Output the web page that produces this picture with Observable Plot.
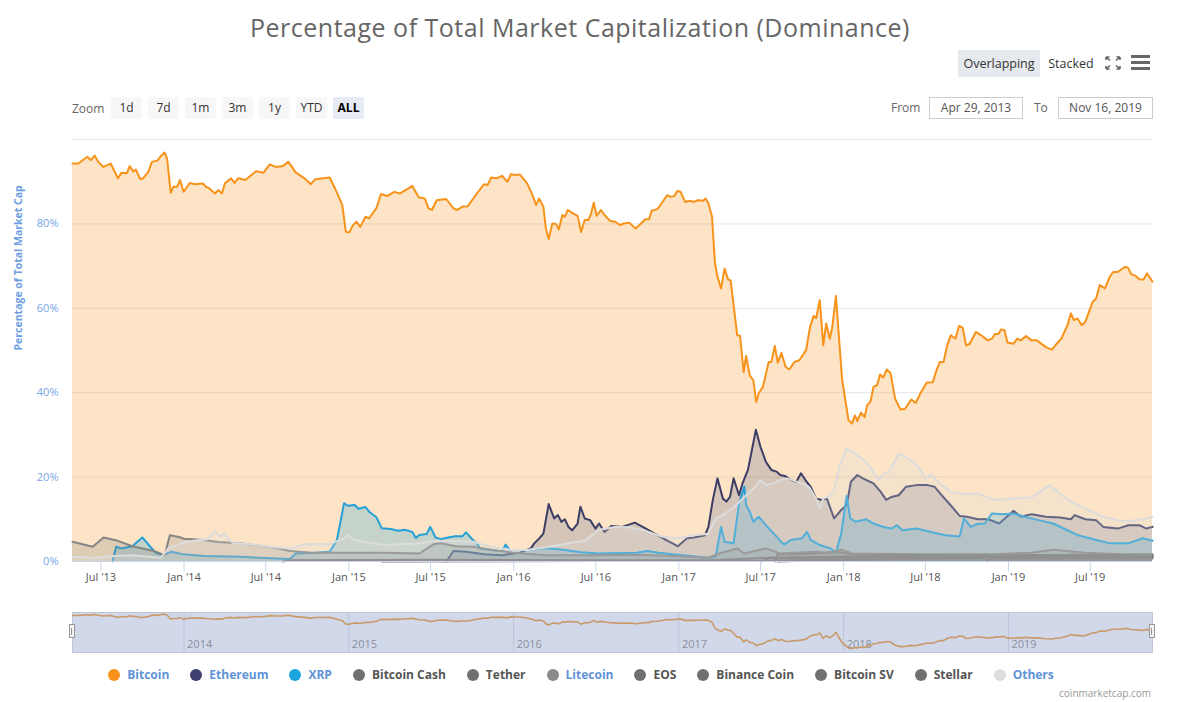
<!DOCTYPE html>
<html><head><meta charset="utf-8">
<script src="https://cdn.jsdelivr.net/npm/d3@7"></script>
<script src="https://cdn.jsdelivr.net/npm/@observablehq/plot@0.6"></script>
<style>
body{margin:0;background:#fff;font-family:"Open Sans",sans-serif;}
#wrap{position:relative;width:1192px;height:702px;overflow:hidden;}
.abs{position:absolute;}
#title{left:0;width:1160px;top:12px;line-height:30px;text-align:center;font-size:25px;letter-spacing:0.5px;color:#666;}
.tb{top:50px;height:27px;line-height:27px;font-size:12.5px;color:#333;text-align:center;}
#zoomrow{left:72px;top:97px;height:22px;display:flex;align-items:center;gap:6px;font-size:12px;}
#zoomrow .lab{color:#666;width:33px;}
#zoomrow .b{width:31px;height:22px;line-height:22px;text-align:center;background:#f7f7f7;color:#333;border-radius:2px;}
#zoomrow .b.on{background:#e6ebf5;font-weight:bold;color:#000;}
.inp{top:97px;height:20px;line-height:20px;border:1px solid #ccc;font-size:12px;color:#555;text-align:center;}
.flab{top:97px;height:22px;line-height:22px;font-size:12px;color:#666;}
#sep{left:72px;top:139px;width:1080px;height:1px;background:#e6e6e6;}
#legend{left:0;width:1162px;top:666px;display:flex;justify-content:center;gap:21px;font-size:12px;font-weight:bold;}
#legend .it{display:flex;align-items:center;}
#legend .dot{width:12px;height:12px;border-radius:6px;margin-right:7px;}
#credit{right:41px;top:686px;line-height:14px;font-size:10px;color:#999;}
.handle{top:624px;width:6px;height:14px;background:#f2f2f2;border:1px solid #999;box-sizing:border-box;}
.handle::after{content:"";position:absolute;left:1px;top:3px;width:2px;height:7px;border-left:1px solid #999;border-right:1px solid #999;box-sizing:content-box;}
</style></head>
<body><div id="wrap">
<div id="title" class="abs">Percentage of Total Market Capitalization (Dominance)</div>
<div class="abs tb" style="left:958px;width:82px;background:#e6e9ee;">Overlapping</div>
<div class="abs tb" style="left:1046px;width:50px;">Stacked</div>
<svg class="abs" style="left:1104px;top:55px" width="18" height="16" viewBox="0 0 18 16">
 <g stroke="#666" stroke-width="1.6" fill="none">
  <path d="M2 2 L6 5.5 M2 2 h3.5 M2 2 v3"/><path d="M16 2 L12 5.5 M16 2 h-3.5 M16 2 v3"/>
  <path d="M2 14 L6 10.5 M2 14 h3.5 M2 14 v-3"/><path d="M16 14 L12 10.5 M16 14 h-3.5 M16 14 v-3"/>
 </g></svg>
<svg class="abs" style="left:1131px;top:55px" width="19" height="16"><g fill="#666"><rect x="0" y="0" width="19" height="3"/><rect x="0" y="6" width="19" height="3"/><rect x="0" y="12" width="19" height="3"/></g></svg>
<div id="zoomrow" class="abs"></div>
<div class="abs flab" style="left:891px;">From</div>
<div class="abs inp" style="left:929px;width:92px;">Apr 29, 2013</div>
<div class="abs flab" style="left:1034px;">To</div>
<div class="abs inp" style="left:1058px;width:93px;">Nov 16, 2019</div>
<div id="sep" class="abs"></div>
<div id="main" class="abs" style="left:0;top:129px;"></div>
<div id="nav" class="abs" style="left:0;top:612px;"></div>
<div class="abs handle" style="left:69px;"></div>
<div class="abs handle" style="left:1149px;"></div>
<div id="legend" class="abs"></div>
<div id="credit" class="abs">coinmarketcap.com</div>
</div>
<script>
// ---- data: [decimal year, % of total market cap] ----
const bitcoin = [[2013.323,94.3],[2013.359,94.3],[2013.413,95.9],[2013.435,95.1],[2013.457,96.2],[2013.479,94.7],[2013.511,93.5],[2013.555,94.3],[2013.598,90.8],[2013.620,92.1],[2013.653,92.0],[2013.670,93.7],[2013.692,92.4],[2013.707,92.9],[2013.734,90.6],[2013.751,90.8],[2013.784,92.4],[2013.805,94.7],[2013.838,95.0],[2013.860,96.1],[2013.882,96.9],[2013.897,95.5],[2013.919,87.4],[2013.936,88.8],[2013.958,88.8],[2013.975,90.4],[2013.997,87.6],[2014.034,89.7],[2014.067,89.4],[2014.115,89.6],[2014.132,88.8],[2014.154,88.4],[2014.187,87.2],[2014.208,88.0],[2014.230,87.2],[2014.248,89.6],[2014.285,90.8],[2014.306,89.7],[2014.328,90.8],[2014.372,90.4],[2014.437,92.5],[2014.481,92.1],[2014.520,94.1],[2014.557,93.5],[2014.600,93.7],[2014.633,94.7],[2014.677,92.2],[2014.731,90.8],[2014.768,89.4],[2014.797,90.6],[2014.884,91.0],[2014.916,88.4],[2014.960,84.5],[2014.982,78.1],[2015.003,78.0],[2015.025,79.7],[2015.047,80.5],[2015.069,79.3],[2015.101,81.7],[2015.123,81.3],[2015.167,83.7],[2015.195,87.1],[2015.232,86.6],[2015.276,87.6],[2015.308,87.2],[2015.352,88.2],[2015.385,89.0],[2015.424,86.3],[2015.461,86.0],[2015.483,83.7],[2015.504,83.3],[2015.533,85.6],[2015.591,85.9],[2015.635,83.7],[2015.657,83.3],[2015.690,84.1],[2015.722,84.2],[2015.777,87.2],[2015.820,89.4],[2015.842,89.2],[2015.864,91.0],[2015.896,90.8],[2015.929,91.4],[2015.962,90.0],[2015.984,91.8],[2016.005,91.6],[2016.038,91.7],[2016.082,89.6],[2016.114,86.8],[2016.136,84.5],[2016.154,86.0],[2016.180,84.1],[2016.195,78.9],[2016.212,76.4],[2016.234,80.1],[2016.256,80.0],[2016.273,78.7],[2016.295,82.1],[2016.310,81.7],[2016.328,83.3],[2016.354,82.6],[2016.387,81.9],[2016.408,78.1],[2016.430,80.9],[2016.452,80.9],[2016.469,82.5],[2016.485,85.0],[2016.502,81.9],[2016.528,83.3],[2016.550,82.1],[2016.583,80.7],[2016.615,80.5],[2016.644,79.7],[2016.665,80.1],[2016.700,80.3],[2016.737,78.9],[2016.766,79.9],[2016.798,81.1],[2016.820,81.1],[2016.835,83.1],[2016.870,83.5],[2016.896,84.9],[2016.929,86.8],[2016.951,86.4],[2016.973,86.6],[2016.990,87.8],[2017.010,87.6],[2017.038,85.2],[2017.066,85.5],[2017.092,85.2],[2017.114,85.6],[2017.147,85.5],[2017.162,86.0],[2017.179,84.9],[2017.201,81.7],[2017.219,70.6],[2017.234,67.5],[2017.256,64.7],[2017.277,69.4],[2017.299,66.8],[2017.314,66.6],[2017.354,53.6],[2017.371,53.5],[2017.393,44.9],[2017.408,48.7],[2017.430,44.1],[2017.452,42.9],[2017.469,37.8],[2017.484,39.8],[2017.510,41.4],[2017.545,47.3],[2017.561,47.3],[2017.582,51.1],[2017.600,47.1],[2017.622,49.4],[2017.648,46.1],[2017.670,45.5],[2017.702,47.3],[2017.731,47.7],[2017.772,50.1],[2017.796,55.6],[2017.818,58.2],[2017.833,57.7],[2017.855,61.9],[2017.876,51.2],[2017.894,56.4],[2017.916,52.8],[2017.931,55.6],[2017.953,62.9],[2017.990,43.3],[2018.029,33.5],[2018.051,32.7],[2018.068,34.6],[2018.083,33.3],[2018.105,35.3],[2018.127,34.2],[2018.142,37.0],[2018.164,38.0],[2018.181,41.4],[2018.203,41.8],[2018.221,44.3],[2018.240,43.6],[2018.262,45.5],[2018.284,44.7],[2018.312,38.6],[2018.345,36.0],[2018.373,36.2],[2018.410,38.4],[2018.438,37.6],[2018.465,39.8],[2018.504,42.4],[2018.541,42.5],[2018.563,45.3],[2018.584,47.3],[2018.606,47.3],[2018.628,51.2],[2018.650,53.6],[2018.678,52.8],[2018.700,55.8],[2018.722,55.4],[2018.743,51.2],[2018.765,51.6],[2018.802,54.4],[2018.835,53.6],[2018.874,52.4],[2018.900,52.8],[2018.918,53.9],[2018.939,53.9],[2018.955,55.0],[2018.976,54.8],[2018.994,51.9],[2019.031,51.6],[2019.053,52.8],[2019.074,52.4],[2019.107,53.4],[2019.140,52.4],[2019.173,52.4],[2019.227,50.8],[2019.264,50.2],[2019.292,51.6],[2019.321,52.8],[2019.358,56.0],[2019.379,58.8],[2019.397,57.2],[2019.419,57.6],[2019.445,56.0],[2019.466,56.8],[2019.488,59.1],[2019.510,61.5],[2019.532,62.3],[2019.554,65.5],[2019.586,64.7],[2019.615,67.5],[2019.636,68.6],[2019.663,68.6],[2019.706,69.8],[2019.724,69.7],[2019.745,68.1],[2019.771,67.7],[2019.793,66.9],[2019.819,66.8],[2019.841,68.3],[2019.874,66.3]];

const ethereum = [[2015.591,0],[2015.635,2.5],[2015.711,2.3],[2015.820,1.7],[2015.929,1.5],[2016.038,2.1],[2016.104,3.1],[2016.125,4.3],[2016.158,5.6],[2016.180,6.6],[2016.212,13.6],[2016.245,10.2],[2016.267,11.0],[2016.289,9.4],[2016.310,10.0],[2016.332,8.2],[2016.354,7.4],[2016.387,9.0],[2016.404,13.0],[2016.430,10.2],[2016.463,9.8],[2016.495,7.8],[2016.517,9.0],[2016.550,7.0],[2016.591,8.4],[2016.657,8.2],[2016.733,9.2],[2016.787,8.1],[2016.853,6.6],[2016.918,5.2],[2016.962,4.3],[2016.994,3.6],[2017.049,5.5],[2017.092,5.7],[2017.158,6.2],[2017.179,8.2],[2017.206,14.6],[2017.234,19.7],[2017.267,14.9],[2017.288,14.2],[2017.310,15.3],[2017.332,19.7],[2017.365,15.7],[2017.386,18.5],[2017.419,21.7],[2017.441,26.0],[2017.467,31.2],[2017.495,27.2],[2017.528,23.6],[2017.561,21.7],[2017.593,21.3],[2017.615,20.5],[2017.648,20.2],[2017.680,19.3],[2017.713,18.9],[2017.741,20.9],[2017.768,19.3],[2017.800,17.7],[2017.833,14.9],[2017.866,14.6],[2017.898,14.9],[2017.942,10.2],[2017.985,12.2],[2018.018,13.4],[2018.044,18.9],[2018.083,20.5],[2018.116,19.7],[2018.181,18.5],[2018.225,16.5],[2018.258,14.6],[2018.290,15.3],[2018.334,15.7],[2018.378,17.7],[2018.443,18.1],[2018.508,18.1],[2018.552,17.7],[2018.595,15.7],[2018.661,12.8],[2018.704,10.8],[2018.748,10.6],[2018.813,10.0],[2018.878,10.0],[2018.944,9.0],[2019.031,12.0],[2019.074,10.6],[2019.140,11.2],[2019.227,10.6],[2019.314,10.4],[2019.379,10.0],[2019.401,11.0],[2019.466,10.0],[2019.532,9.8],[2019.575,8.2],[2019.663,7.8],[2019.728,8.6],[2019.793,8.6],[2019.837,7.8],[2019.874,8.2]];

const xrp = [[2013.566,0],[2013.588,3.5],[2013.620,3.1],[2013.686,3.6],[2013.747,5.7],[2013.795,3.5],[2013.827,2.1],[2013.871,1.5],[2013.925,2.3],[2013.991,1.7],[2014.121,1.3],[2014.339,1.1],[2014.557,0.7],[2014.644,0.6],[2014.677,1.9],[2014.775,2.0],[2014.884,2.3],[2014.927,5.0],[2014.971,13.8],[2014.993,13.2],[2015.036,13.4],[2015.058,12.5],[2015.101,12.9],[2015.123,11.8],[2015.167,10.5],[2015.199,7.9],[2015.254,7.7],[2015.298,7.3],[2015.341,7.5],[2015.385,7.0],[2015.406,5.6],[2015.428,6.3],[2015.472,6.5],[2015.494,8.2],[2015.526,5.7],[2015.559,5.3],[2015.602,5.7],[2015.646,6.0],[2015.690,6.0],[2015.711,6.9],[2015.755,5.0],[2015.777,4.3],[2015.799,3.0],[2015.864,2.7],[2015.929,2.4],[2015.951,4.0],[2015.973,2.8],[2016.082,2.7],[2016.190,3.2],[2016.299,2.8],[2016.408,2.2],[2016.517,1.9],[2016.744,2.1],[2016.809,2.5],[2016.875,2.1],[2016.962,1.7],[2017.071,1.3],[2017.179,0.9],[2017.223,1.1],[2017.256,8.2],[2017.277,4.7],[2017.332,4.3],[2017.365,13.8],[2017.397,17.7],[2017.408,13.4],[2017.430,11.8],[2017.452,9.4],[2017.484,10.6],[2017.528,8.6],[2017.593,5.9],[2017.637,4.0],[2017.680,5.1],[2017.746,5.5],[2017.778,7.0],[2017.800,5.1],[2017.855,3.9],[2017.920,3.1],[2017.953,2.1],[2017.985,6.6],[2018.018,15.5],[2018.040,10.2],[2018.073,9.4],[2018.138,10.0],[2018.181,9.0],[2018.247,8.1],[2018.290,7.8],[2018.323,8.6],[2018.356,7.4],[2018.443,7.8],[2018.530,7.0],[2018.617,6.2],[2018.704,5.9],[2018.730,10.2],[2018.770,8.2],[2018.813,8.9],[2018.857,9.0],[2018.900,11.4],[2018.965,11.2],[2019.031,11.4],[2019.096,10.6],[2019.183,9.8],[2019.271,9.0],[2019.358,7.4],[2019.423,6.2],[2019.532,5.1],[2019.619,4.3],[2019.728,4.3],[2019.815,5.5],[2019.874,4.9]];

const bitcoinCash = [[2017.585,0],[2017.600,1.8],[2017.700,1.7],[2017.870,2.0],[2017.950,2.3],[2018.050,1.8],[2018.300,1.6],[2018.600,1.4],[2018.870,1.3],[2018.900,1.0],[2019.200,1.0],[2019.450,1.3],[2019.700,1.2],[2019.874,1.2]];
const tether = [[2015.200,0],[2016.500,0.1],[2017.500,0.1],[2017.900,0.4],[2018.100,0.6],[2018.400,1.0],[2018.700,1.3],[2018.950,1.6],[2019.300,1.5],[2019.600,1.6],[2019.874,1.7]];
const litecoin = [[2013.323,4.7],[2013.446,3.5],[2013.511,5.7],[2013.598,4.9],[2013.686,3.6],[2013.816,2.5],[2013.882,1.5],[2013.914,6.2],[2013.969,5.8],[2014.001,5.4],[2014.121,5.1],[2014.208,4.6],[2014.339,4.3],[2014.426,3.9],[2014.557,3.2],[2014.644,2.5],[2014.775,2.1],[2014.993,2.1],[2015.210,2.1],[2015.428,1.9],[2015.515,4.1],[2015.559,4.3],[2015.646,3.6],[2015.755,3.5],[2015.864,2.8],[2015.994,2.1],[2016.190,1.5],[2016.408,1.5],[2016.744,1.6],[2016.962,1.3],[2017.179,0.9],[2017.245,1.9],[2017.354,3.1],[2017.397,1.9],[2017.528,3.1],[2017.615,1.9],[2017.833,2.3],[2017.920,1.9],[2017.985,2.8],[2018.051,1.9],[2018.487,1.7],[2018.922,1.7],[2019.140,2.1],[2019.271,2.8],[2019.466,2.1],[2019.684,1.7],[2019.874,1.6]];
const eos = [[2017.500,0],[2017.550,0.9],[2017.900,0.9],[2018.300,1.6],[2018.500,1.5],[2018.900,1.3],[2019.400,1.6],[2019.600,1.4],[2019.874,1.3]];
const binanceCoin = [[2017.600,0],[2018.000,0.4],[2018.500,0.7],[2019.000,1.0],[2019.400,1.6],[2019.600,1.5],[2019.874,1.3]];
const bitcoinSV = [[2018.870,0],[2018.900,0.8],[2019.300,0.8],[2019.450,1.1],[2019.874,1.0]];
const stellar = [[2014.600,0],[2014.650,0.3],[2015.500,0.4],[2016.500,0.3],[2017.200,0.3],[2017.500,0.8],[2018.000,1.2],[2018.300,1.1],[2018.900,1.4],[2019.300,1.0],[2019.874,0.7]];
const others = [[2013.323,1.1],[2013.468,0.9],[2013.577,1.3],[2013.686,1.5],[2013.860,0.9],[2013.903,3.1],[2013.991,4.4],[2014.056,4.9],[2014.143,5.3],[2014.187,7.2],[2014.219,5.9],[2014.241,6.6],[2014.296,4.4],[2014.404,4.1],[2014.513,3.5],[2014.644,3.1],[2014.731,4.1],[2014.884,4.1],[2014.971,5.5],[2014.993,6.2],[2015.036,5.1],[2015.210,3.9],[2015.428,4.3],[2015.537,4.9],[2015.755,4.7],[2015.864,3.5],[2015.994,2.7],[2016.082,2.7],[2016.234,3.6],[2016.343,4.4],[2016.430,4.9],[2016.517,7.5],[2016.613,8.2],[2016.700,8.1],[2016.787,7.4],[2016.896,5.9],[2016.983,5.5],[2017.092,6.2],[2017.179,6.6],[2017.223,10.2],[2017.267,11.0],[2017.332,12.8],[2017.397,15.3],[2017.463,17.7],[2017.495,19.3],[2017.528,18.1],[2017.572,18.5],[2017.615,19.3],[2017.659,19.7],[2017.746,18.5],[2017.789,17.7],[2017.833,14.9],[2017.855,12.6],[2017.876,14.9],[2017.920,15.7],[2017.942,16.9],[2017.974,22.5],[2018.018,26.8],[2018.051,26.0],[2018.094,24.8],[2018.138,23.6],[2018.214,19.3],[2018.247,20.9],[2018.269,20.9],[2018.334,25.6],[2018.378,24.8],[2018.443,22.9],[2018.497,19.7],[2018.530,20.6],[2018.595,18.1],[2018.650,16.5],[2018.704,16.1],[2018.813,16.1],[2018.922,14.6],[2019.031,14.9],[2019.140,15.2],[2019.249,18.1],[2019.314,16.1],[2019.379,14.2],[2019.466,12.6],[2019.575,10.6],[2019.663,9.8],[2019.728,9.6],[2019.815,10.0],[2019.874,10.6]];

const seriesNames = ["Bitcoin","Ethereum","XRP","Bitcoin Cash","Tether","Litecoin","EOS","Binance Coin","Bitcoin SV","Stellar","Others"];
const seriesData = [bitcoin, ethereum, xrp, bitcoinCash, tether, litecoin, eos, binanceCoin, bitcoinSV, stellar, others];
const lineColors = ["#f7931a","#3c3e66","#23a0d8","#777777","#777777","#858585","#777777","#777777","#777777","#777777","#dcdcdc"];
const fillColors = ["#f7931a","#5f6590","#23a0d8","#777777","#777777","#858585","#777777","#777777","#777777","#777777","#dddddd"];
const legendDots = ["#f7931a","#3d4070","#1ba3dd","#707070","#707070","#8a8a8a","#707070","#707070","#707070","#707070","#dedede"];
const legendText = ["#6093d8","#6093d8","#6093d8","#555555","#555555","#6093d8","#555555","#555555","#555555","#555555","#6093d8"];

const xTickDates = ["2013-07-01","2014-01-01","2014-07-01","2015-01-01","2015-07-01","2016-01-01","2016-07-01","2017-01-01","2017-07-01","2018-01-01","2018-07-01","2019-01-01","2019-07-01"];
const xTickLabels = ["Jul '13","Jan '14","Jul '14","Jan '15","Jul '15","Jan '16","Jul '16","Jan '17","Jul '17","Jan '18","Jul '18","Jan '19","Jul '19"];
const yTicks = [0, 20, 40, 60, 80];
const yGrid = [20, 40, 60, 80, 100];
const navYears = ["2014","2015","2016","2017","2018","2019"];
const zoomButtons = ["1d","7d","1m","3m","1y","YTD","ALL"];
const range = [2013.323, 2019.874];
const yTitle = "Percentage of Total Market Cap";

// ---- helpers ----
const toDate = t => { const y = Math.floor(t); const a = Date.UTC(y,0,1), b = Date.UTC(y+1,0,1); return new Date(a + (t - y) * (b - a)); };
const rowsOf = arr => arr.map(([t, v]) => ({date: toDate(t), value: v}));
const xDomain = range.map(toDate);
const tickDates = xTickDates.map(s => new Date(s + "T00:00:00Z"));
const labelMap = new Map(tickDates.map((d, i) => [+d, xTickLabels[i]]));

// ---- main chart ----
const marks = [Plot.gridY(yGrid, {stroke: "#e6e6e6", strokeOpacity: 1})];
seriesData.forEach((arr, i) => {
  const rows = rowsOf(arr);
  marks.push(Plot.areaY(rows, {x: "date", y: "value", fill: fillColors[i], fillOpacity: 0.25}));
  marks.push(Plot.lineY(rows, {x: "date", y: "value", stroke: lineColors[i], strokeWidth: 2}));
});
marks.push(Plot.ruleY([0], {stroke: "#ccd6eb"}));
marks.push(Plot.axisX(tickDates, {tickSize: 10, tickPadding: 2, tickFormat: d => labelMap.get(+d), stroke: "#ccd6eb", color: "#555", label: null}));
marks.push(Plot.axisY(yTicks, {tickSize: 0, tickPadding: 14, tickFormat: d => d + "%", color: "#78a6e6", label: null}));
marks.push(Plot.text([yTitle], {frameAnchor: "left", rotate: -90, dx: -54, fill: "#6c9ee2", fontWeight: "bold", fontSize: 10.5}));

const chart = Plot.plot({
  width: 1192, height: 462, marginTop: 10, marginBottom: 30, marginLeft: 72, marginRight: 40,
  x: {type: "utc", domain: xDomain},
  y: {domain: [0, 100]},
  style: {fontFamily: "Open Sans", fontSize: "11px", background: "transparent", overflow: "visible"},
  marks
});
document.getElementById("main").appendChild(chart);

// ---- navigator ----
const navDates = navYears.map(y => new Date(Date.UTC(+y, 0, 1)));
const nav = Plot.plot({
  width: 1192, height: 40, marginTop: 0, marginBottom: 0, marginLeft: 72, marginRight: 40,
  x: {type: "utc", domain: xDomain, axis: null},
  y: {domain: [25, 100], axis: null},
  style: {fontFamily: "Open Sans", fontSize: "11px", background: "transparent", overflow: "visible"},
  marks: [
    Plot.frame({fill: "#d1d8ea", stroke: "#bfc6d8"}),
    Plot.ruleX(navDates, {stroke: "#bcc4d8"}),
    Plot.text(navDates, {x: d => d, text: (d, i) => navYears[i], frameAnchor: "bottom", textAnchor: "start", dx: 3, dy: -5, fill: "#8a8f9c", fontSize: 11}),
    Plot.lineY(rowsOf(bitcoin), {x: "date", y: "value", stroke: "#c9996a", strokeWidth: 1.6})
  ]
});
document.getElementById("nav").appendChild(nav);

// ---- zoom buttons ----
const zr = document.getElementById("zoomrow");
zr.innerHTML = '<span class="lab">Zoom</span>' + zoomButtons.map(b => `<span class="b${b === "ALL" ? " on" : ""}">${b}</span>`).join("");

// ---- legend ----
document.getElementById("legend").innerHTML = seriesNames.map((n, i) =>
  `<div class="it"><span class="dot" style="background:${legendDots[i]}"></span><span style="color:${legendText[i]}">${n}</span></div>`).join("");
</script>
</body></html>
